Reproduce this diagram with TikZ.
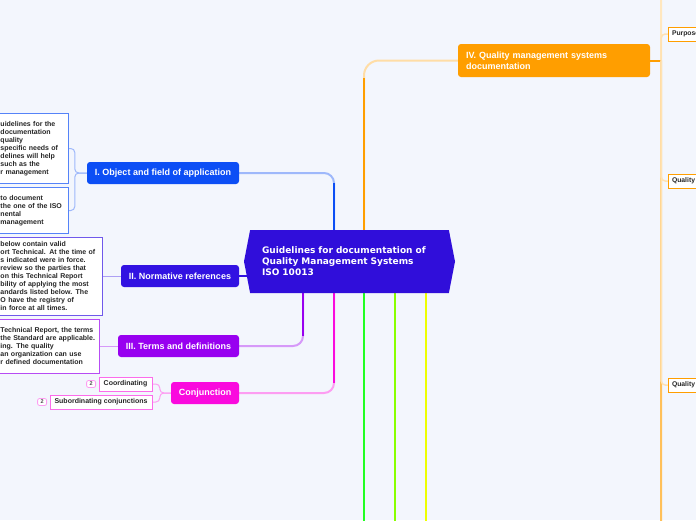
\documentclass[tikz,border=0pt]{standalone}
\usepackage{fontspec}
\setmainfont{Liberation Sans}
\newfontfamily\rootfont{DejaVu Sans}
\usetikzlibrary{positioning, shapes.symbols, backgrounds}

\definecolor{bgcol}{RGB}{243,246,253}
\definecolor{rootcol}{RGB}{48,14,218}
\definecolor{objcol}{RGB}{12,78,245}
\definecolor{normcol}{RGB}{50,18,226}
\definecolor{termcol}{RGB}{152,0,240}
\definecolor{conjcol}{RGB}{250,10,222}
\definecolor{qmscol}{RGB}{255,158,0}
\definecolor{greencol}{RGB}{34,255,34}
\definecolor{limecol}{RGB}{136,255,0}
\definecolor{yellowcol}{RGB}{238,255,0}

\begin{document}
\begin{tikzpicture}[x=1pt, y=-1pt,
    topic/.style={rounded corners=3, text=white, font=\fontsize{9}{11}\selectfont\bfseries,
      minimum height=22, inner xsep=6, inner ysep=0},
    note/.style={draw, fill=white, line width=1, align=left, text=black!85,
      font=\fontsize{7}{8}\selectfont\bfseries, inner sep=4},
    tag/.style={draw, fill=white, line width=1, text=black!85,
      font=\fontsize{7}{8}\selectfont\bfseries, inner xsep=4, inner ysep=0, minimum height=14},
    sidetag/.style={tag, draw=qmscol, anchor=west, text width=36, align=left, inner xsep=3.5,
      font=\fontsize{6.8}{8}\selectfont\bfseries},
    badge/.style={draw=conjcol!40, fill=white, rounded corners=2, line width=0.8, text=black!70,
      font=\fontsize{5.5}{6}\selectfont\bfseries, inner sep=1, minimum width=9, minimum height=7},
    link/.style={line width=2, rounded corners=10},
    twig/.style={line width=1, rounded corners=4}]
    \useasboundingbox (0,0) rectangle (696,520);

    % centre
    \node[signal, signal to=west and east, signal pointer angle=158, fill=rootcol,
      minimum width=211, minimum height=63, text width=175, align=left, inner sep=0,
      text=white, font=\rootfont\fontsize{9}{11}\selectfont\bfseries] (root) at (349.5,261.5)
      {Guidelines for documentation of\\Quality Management Systems\\ISO 10013};

    % main topics
    \node[topic, fill=objcol, minimum width=152] (obj) at (163,173) {I. Object and field of application};
    \node[topic, fill=normcol, minimum width=118] (norm) at (180,276) {II. Normative references};
    \node[topic, fill=termcol, minimum width=121] (terms) at (178.5,346) {III. Terms and definitions};
    \node[topic, fill=conjcol, minimum width=68] (conj) at (205,393) {Conjunction};
    \node[topic, fill=qmscol, minimum width=192, minimum height=33, text width=176, align=left,
      inner xsep=8] (qms) at (554,60.5) {IV. Quality management systems\\documentation};

    % notes on the left
    \node[note, draw=objcol!70, text width=64, minimum height=70, anchor=north east] (objnote1) at (69,113)
      {uidelines for the\\documentation\\quality\\specific needs of\\delines will help\\such as the\\r management};
    \node[note, draw=objcol!70, text width=64, minimum height=46, anchor=north east] (objnote2) at (69,187)
      {to document\\the one of the ISO\\nental\\management};
    \node[note, draw=normcol!70, text width=98, minimum height=78, anchor=east] (normnote) at (103,276)
      {below contain valid\\ort Technical. At the time of\\s indicated were in force.\\review so the parties that\\on this Technical Report\\bility of applying the most\\andards listed below. The\\O have the registry of\\in force at all times.};
    \node[note, draw=termcol!70, text width=95, minimum height=54, anchor=east] (termnote) at (100,346)
      {Technical Report, the terms\\the Standard are applicable.\\ing. The quality\\an organization can use\\r defined documentation};

    % conjunction children
    \node[tag, draw=conjcol!60, minimum width=53] (coord) at (125.5,384) {Coordinating};
    \node[tag, draw=conjcol!60, minimum width=102] (subord) at (101,402) {Subordinating conjunctions};
    \node[badge, left=2.5pt of coord] (coordnum) {2};
    \node[badge, left=2.5pt of subord] (subordnum) {2};

    % children of IV
    \node[sidetag] (purp) at (668,34) {Purpose};
    \node[sidetag] (qual1) at (668,181) {Quality};
    \node[sidetag] (qual2) at (668,385) {Quality};

    \coordinate (fork) at ([xshift=11]qms.east);
    \coordinate (forktop) at (661,-5);
    \coordinate (forkbot) at (661,525);
    \coordinate (greenend) at (364,530);
    \coordinate (limeend) at (395,530);
    \coordinate (yellowend) at (426,530);

    \begin{pgfonlayer}{background}
    \fill[bgcol] (0,0) rectangle (696,520);

    % branches of the centre
    \draw[link, objcol!40] (obj.east) -| ([xshift=-15.5]root.north);
    \draw[link, objcol] ([xshift=-15.5]root.north) -- ++(0,-47);
    \draw[link, qmscol!35, rounded corners=15] (qms.west) -| ([xshift=14.5]root.north);
    \draw[link, qmscol] ([xshift=14.5]root.north) -- ++(0,-152);
    \draw[link, normcol] (norm.east) -- (norm.east -| root.center);
    \draw[link, termcol!40] (terms.east) -| ([xshift=-46.5]root.south);
    \draw[link, termcol] ([xshift=-46.5]root.south) -- ++(0,43);
    \draw[link, conjcol!40] (conj.east) -| ([xshift=-15.5]root.south);
    \draw[link, conjcol] ([xshift=-15.5]root.south) -- ++(0,90);
    \draw[link, greencol] ([xshift=14.5]root.south) -- (greenend);
    \draw[link, limecol] ([xshift=45.5]root.south) -- (limeend);
    \draw[link, yellowcol] ([xshift=76.5]root.south) -- (yellowend);

    % notes
    \draw[twig, objcol!40] (obj.west) -- ([xshift=-12]obj.west) |- (objnote1.east);
    \draw[twig, objcol!40] (obj.west) -- ([xshift=-12]obj.west) |- (objnote2.east);
    \draw[twig, normcol!40] (norm.west) -- (normnote.east);
    \draw[twig, termcol!40] (terms.west) -- (termnote.east);
    \draw[twig, conjcol!40] (conj.west) -- ([xshift=-11]conj.west) |- (coord.east);
    \draw[twig, conjcol!40] (conj.west) -- ([xshift=-11]conj.west) |- (subord.east);

    % right spine
    \draw[line width=2, qmscol!25] (fork) -- (forktop);
    \draw[line width=2, qmscol!65] (fork) -- (forkbot);
    \draw[line width=2, qmscol] (qms.east) -- (fork);
    \draw[twig, qmscol!30, line width=1.5] (fork) |- (purp.west);
    \draw[twig, qmscol!30, line width=1.5] (fork) |- (qual1.west);
    \draw[twig, qmscol!30, line width=1.5] (fork) |- (qual2.west);
    \end{pgfonlayer}
\end{tikzpicture}
\end{document}
